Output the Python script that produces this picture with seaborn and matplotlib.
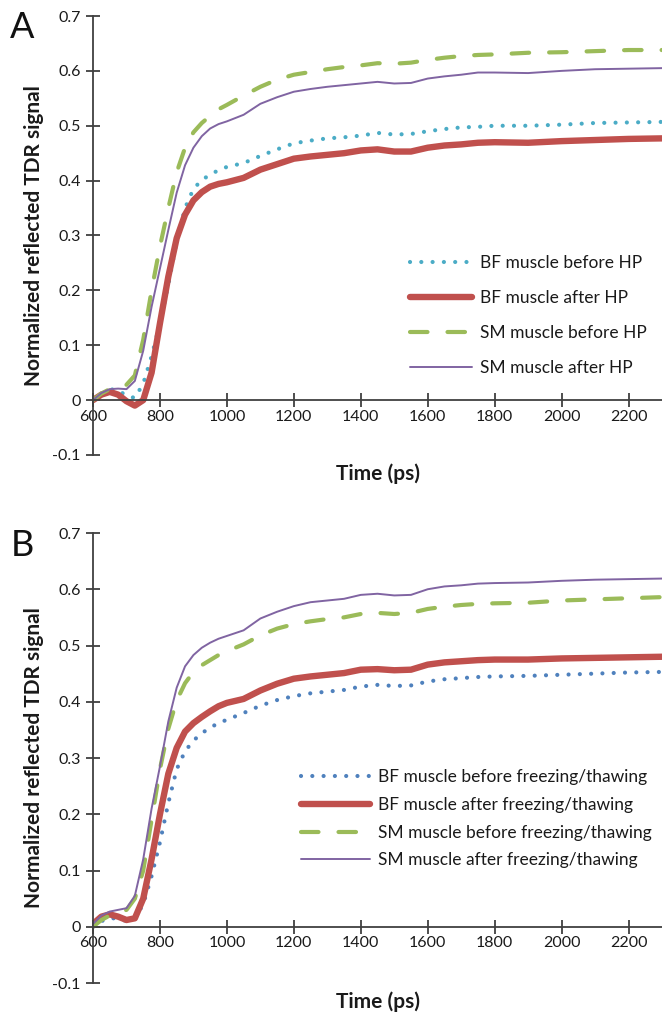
import matplotlib
matplotlib.use("Agg")
import matplotlib.pyplot as plt
import seaborn as sns
import pandas as pd

time_ps = [600, 625, 650, 675, 700, 725, 750, 775, 800, 825, 850, 875, 900, 925, 950, 975,
           1000, 1050, 1100, 1150, 1200, 1250, 1300, 1350, 1400, 1450, 1500, 1550, 1600,
           1650, 1700, 1750, 1800, 1900, 2000, 2100, 2200, 2300]

# Panel A
a_bf_before = [0.0, 0.012, 0.02, 0.018, 0.008, 0.004, 0.03, 0.08, 0.14, 0.21, 0.29, 0.35, 0.385, 0.401, 0.411, 0.419,
               0.425, 0.432, 0.445, 0.457, 0.468, 0.473, 0.477, 0.479, 0.482, 0.487, 0.484, 0.485, 0.49,
               0.494, 0.497, 0.498, 0.5, 0.5, 0.502, 0.505, 0.506, 0.507]
a_bf_after = [0.0, 0.01, 0.015, 0.01, -0.002, -0.01, 0.0, 0.05, 0.14, 0.225, 0.295, 0.338, 0.364, 0.379, 0.389, 0.394,
              0.397, 0.405, 0.42, 0.43, 0.44, 0.444, 0.447, 0.45, 0.455, 0.457, 0.453, 0.453, 0.46,
              0.464, 0.466, 0.469, 0.47, 0.469, 0.472, 0.474, 0.476, 0.477]
a_sm_before = [0.0, 0.012, 0.02, 0.022, 0.028, 0.045, 0.11, 0.2, 0.28, 0.35, 0.415, 0.46, 0.488, 0.505, 0.518, 0.53,
               0.538, 0.555, 0.571, 0.584, 0.593, 0.598, 0.603, 0.607, 0.61, 0.614, 0.613, 0.615, 0.62,
               0.624, 0.627, 0.629, 0.63, 0.633, 0.634, 0.636, 0.638, 0.638]
a_sm_after = [0.0, 0.013, 0.02, 0.021, 0.02, 0.035, 0.09, 0.17, 0.24, 0.31, 0.378, 0.428, 0.46, 0.481, 0.495, 0.503,
              0.508, 0.52, 0.54, 0.552, 0.562, 0.567, 0.571, 0.574, 0.577, 0.58, 0.577, 0.578, 0.586,
              0.59, 0.593, 0.597, 0.597, 0.596, 0.6, 0.603, 0.604, 0.605]

# Panel B
b_bf_before = [0.0, 0.01, 0.015, 0.015, 0.01, 0.015, 0.04, 0.09, 0.15, 0.22, 0.28, 0.312, 0.331, 0.344, 0.354, 0.362,
               0.368, 0.38, 0.393, 0.403, 0.41, 0.415, 0.418, 0.421, 0.427, 0.43, 0.428, 0.429, 0.436,
               0.44, 0.442, 0.444, 0.445, 0.446, 0.448, 0.45, 0.452, 0.453]
b_bf_after = [0.005, 0.018, 0.022, 0.018, 0.012, 0.015, 0.05, 0.12, 0.2, 0.272, 0.318, 0.347, 0.362, 0.373, 0.383, 0.392,
              0.398, 0.405, 0.42, 0.432, 0.441, 0.445, 0.448, 0.451, 0.457, 0.458, 0.456, 0.457, 0.466,
              0.47, 0.472, 0.474, 0.475, 0.475, 0.477, 0.478, 0.479, 0.48]
b_sm_before = [0.0, 0.012, 0.02, 0.024, 0.03, 0.05, 0.1, 0.19, 0.28, 0.352, 0.402, 0.433, 0.453, 0.465, 0.474, 0.483,
               0.49, 0.502, 0.518, 0.53, 0.538, 0.543, 0.547, 0.55, 0.556, 0.558, 0.556, 0.558, 0.565,
               0.569, 0.572, 0.574, 0.575, 0.576, 0.58, 0.582, 0.584, 0.586]
b_sm_after = [0.005, 0.02, 0.027, 0.03, 0.033, 0.055, 0.12, 0.21, 0.285, 0.365, 0.425, 0.463, 0.483, 0.496, 0.505, 0.512,
              0.517, 0.527, 0.548, 0.56, 0.57, 0.577, 0.58, 0.583, 0.59, 0.592, 0.589, 0.59, 0.6,
              0.605, 0.607, 0.61, 0.611, 0.612, 0.615, 0.617, 0.618, 0.619]

labels_a = ["BF muscle before HP", "BF muscle after HP", "SM muscle before HP", "SM muscle after HP"]
labels_b = ["BF muscle before freezing/thawing", "BF muscle after freezing/thawing",
            "SM muscle before freezing/thawing", "SM muscle after freezing/thawing"]
x_ticks = [600, 800, 1000, 1200, 1400, 1600, 1800, 2000, 2200]
y_ticks = [-0.1, 0, 0.1, 0.2, 0.3, 0.4, 0.5, 0.6, 0.7]
y_ticklabels = ["-0.1", "0", "0.1", "0.2", "0.3", "0.4", "0.5", "0.6", "0.7"]

sns.set_theme(style="white")
plt.rcParams['font.family'] = ['Lato', 'DejaVu Sans']

axis_col = "#404040"
text_col = "#1a1a1a"

fig = plt.figure(figsize=(6.62, 10.13), dpi=100)
axA = fig.add_axes([0.1405, 1 - 455 / 1013, 1 - 0.1405, 439 / 1013])
axB = fig.add_axes([0.1405, 1 - 983 / 1013, 1 - 0.1405, 450 / 1013])


def draw(ax, series, labels, dotted_color, legend_anchor, legend_spacing, handlelen, panel_letter, letter_y):
    styles = [
        dict(color=dotted_color, linewidth=3.0, kind="dot"),
        dict(color="#C0504D", linewidth=4.6, kind="solid"),
        dict(color="#9BBB59", linewidth=3.0, kind="dash"),
        dict(color="#8064A2", linewidth=1.4, kind="solid"),
    ]
    for vals, lab, st in zip(series, labels, styles):
        df = pd.DataFrame({"t": time_ps, "v": vals})
        sns.lineplot(data=df, x="t", y="v", ax=ax, color=st["color"], linewidth=st["linewidth"],
                     label=lab, sort=False)
        ln = ax.lines[-1]
        ln.set_solid_joinstyle("round")
        ln.set_dash_joinstyle("round")
        if st["kind"] == "dot":
            ln.set_dashes([0.01, 2.7])
            ln.set_dash_capstyle("round")
        elif st["kind"] == "dash":
            ln.set_dashes([4.2, 4.8])
            ln.set_dash_capstyle("round")
        else:
            ln.set_solid_capstyle("round")
    ax.set_xlim(600, 2300)
    ax.set_ylim(-0.1, 0.7)
    ax.set_xticks(x_ticks)
    ax.set_xticklabels([str(v) for v in x_ticks])
    ax.set_yticks(y_ticks)
    ax.set_yticklabels(y_ticklabels)
    for s in ["top", "right"]:
        ax.spines[s].set_visible(False)
    ax.spines["bottom"].set_position(("data", 0))
    for s in ["left", "bottom"]:
        ax.spines[s].set_color(axis_col)
        ax.spines[s].set_linewidth(1.3)
    ax.tick_params(axis="both", direction="inout", length=10, width=1.3, color=axis_col,
                   labelsize=11.5, labelcolor=text_col, left=True, bottom=True)
    ax.tick_params(axis="x", pad=2)
    ax.tick_params(axis="y", pad=4)
    ax.set_xlabel("")
    ax.set_ylabel("Normalized reflected TDR signal", fontsize=15, fontweight="bold",
                  color=text_col, labelpad=6)
    ax.text(0.5, -0.042, "Time (ps)", transform=ax.transAxes, ha="center", va="center",
            fontsize=15, fontweight="bold", color=text_col)
    ax.patch.set_alpha(0)
    leg = ax.legend(loc="upper left", bbox_to_anchor=legend_anchor, bbox_transform=fig.transFigure,
                    frameon=False, fontsize=12.5, handlelength=handlelen, handletextpad=0.45,
                    labelspacing=legend_spacing, borderpad=0, borderaxespad=0)
    for t in leg.get_texts():
        t.set_color(text_col)
    fig.text(22 / 662, 1 - letter_y / 1013, panel_letter, fontsize=26, ha="center", va="center",
             color="#111111")


draw(axA, [a_bf_before, a_bf_after, a_sm_before, a_sm_after], labels_a, "#4BACC6",
     (410 / 662, 1 - 255 / 1013), 1.1, 3.6, "A", 27)
draw(axB, [b_bf_before, b_bf_after, b_sm_before, b_sm_after], labels_b, "#4F81BD",
     (301 / 662, 1 - 769 / 1013), 0.68, 4.0, "B", 545)

fig.savefig("out.png", dpi=100)
